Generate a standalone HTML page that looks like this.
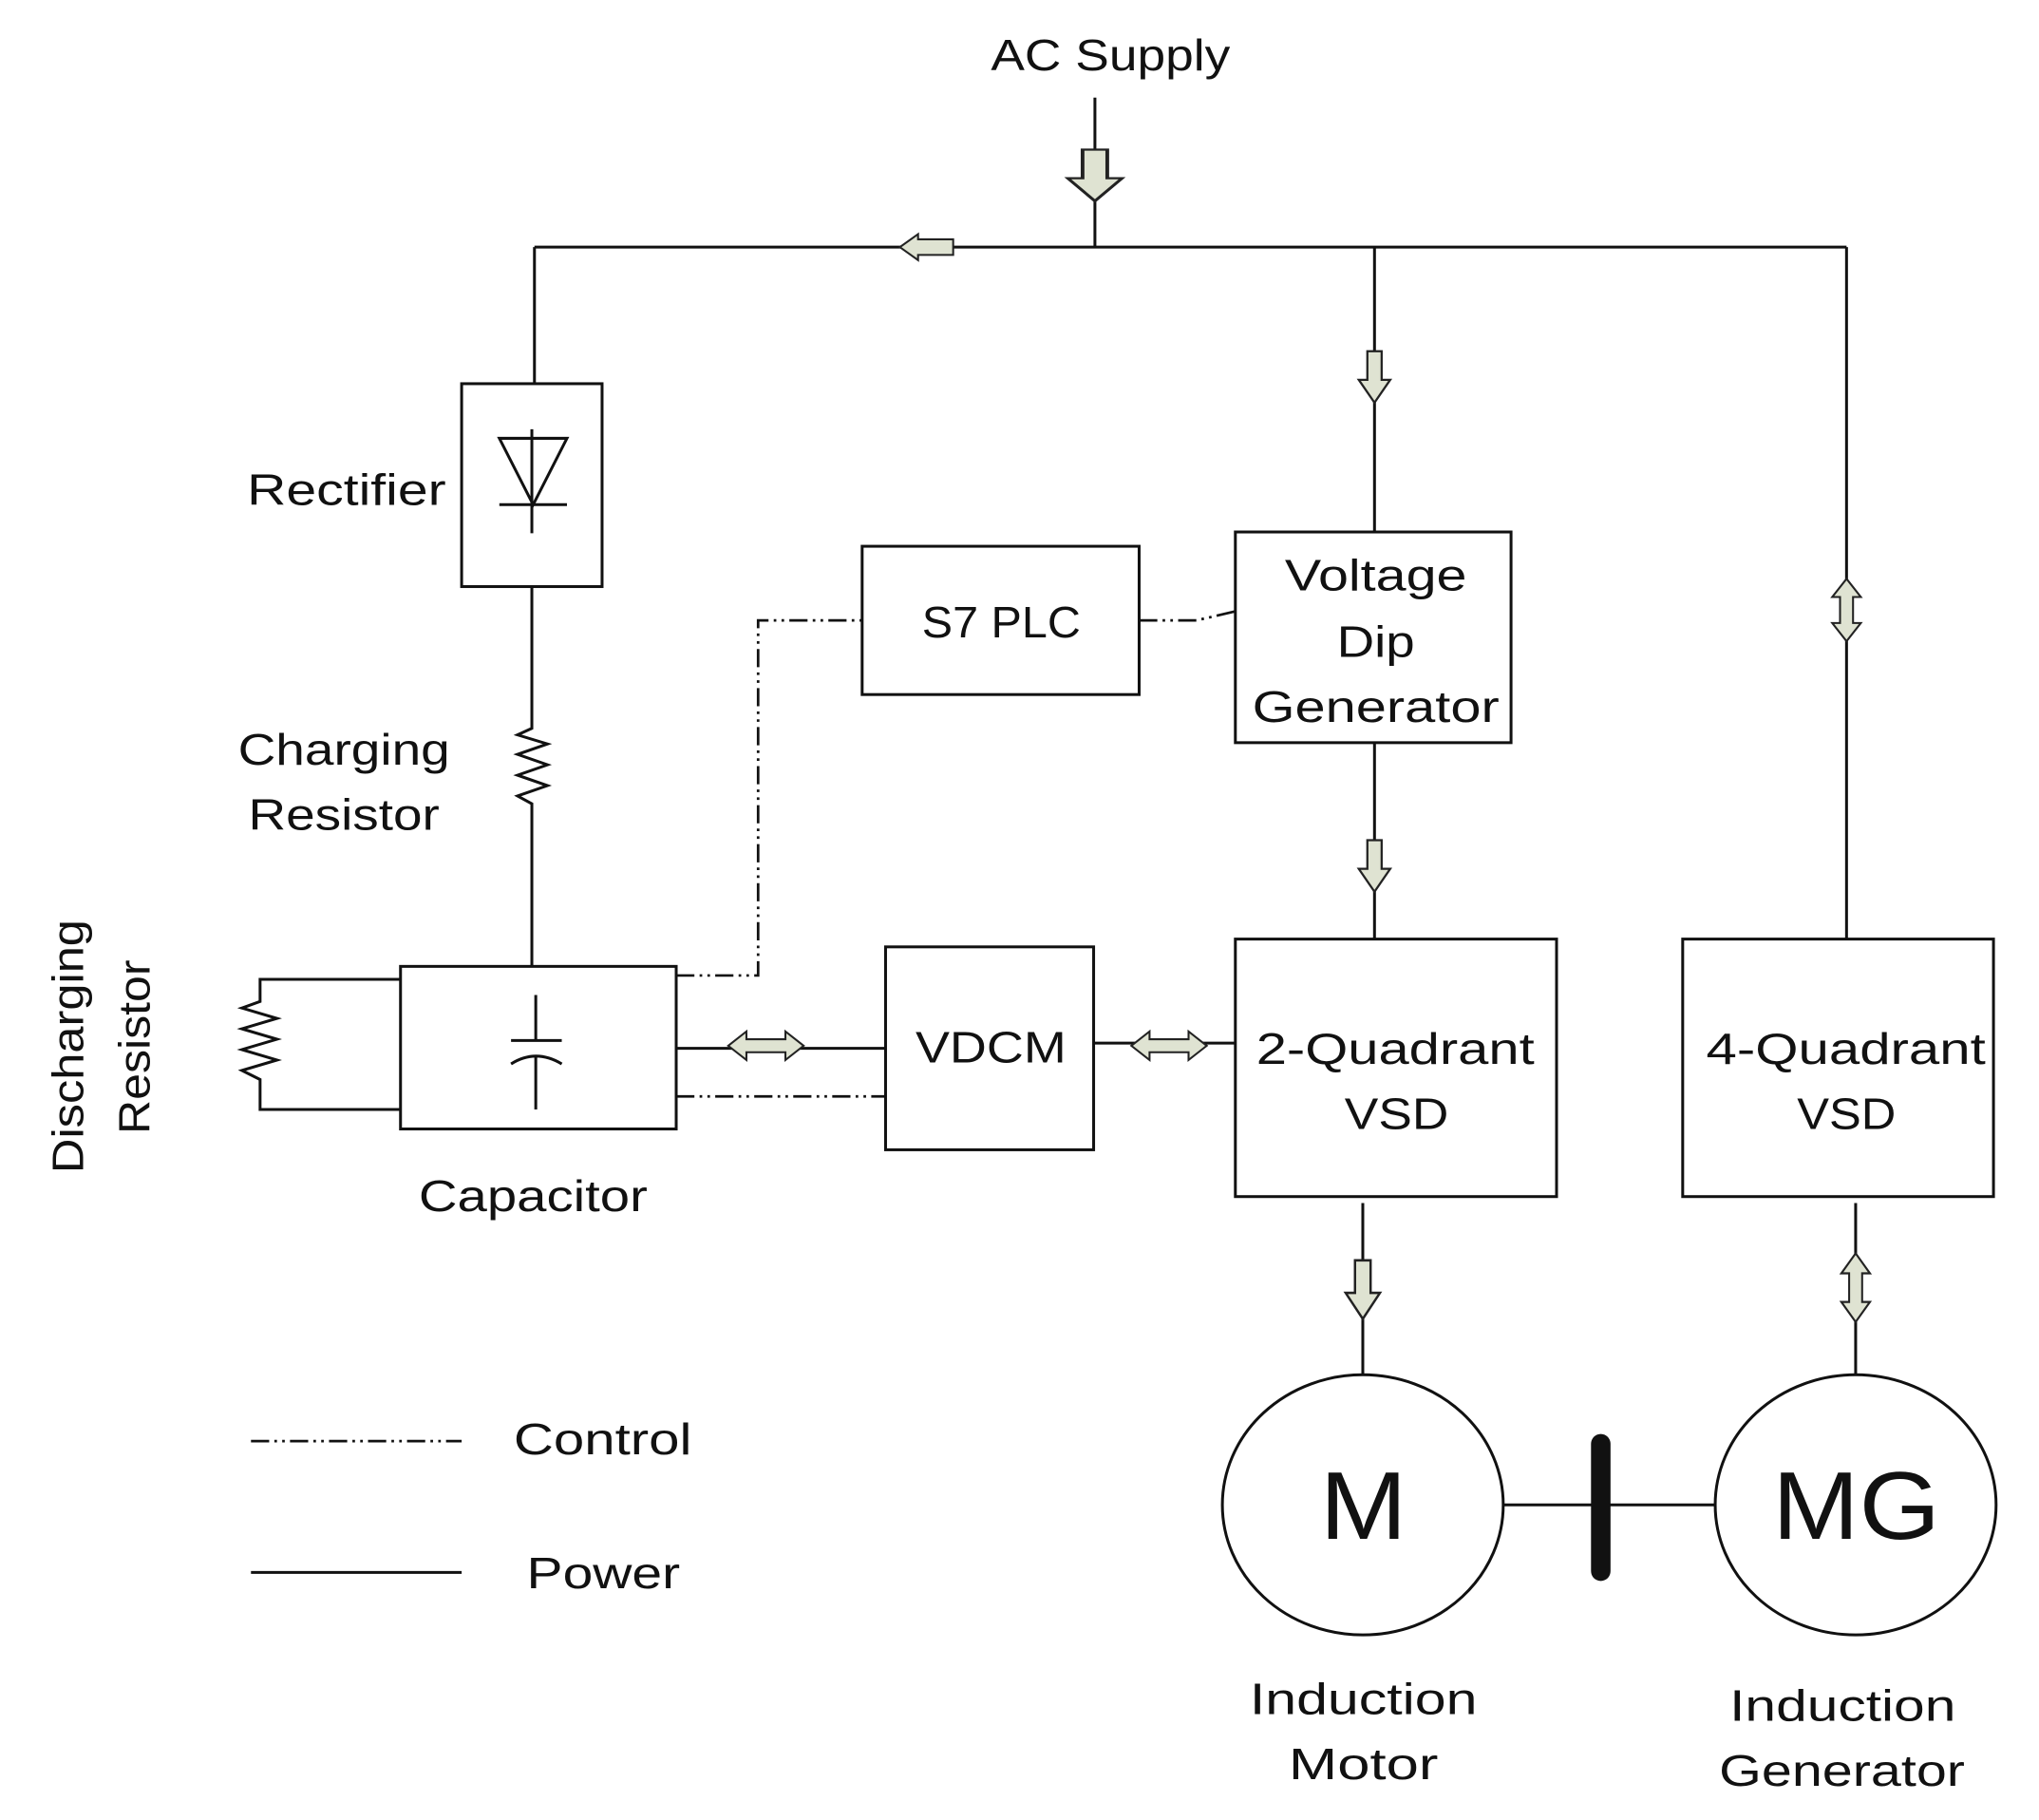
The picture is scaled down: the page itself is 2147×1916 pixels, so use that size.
<!DOCTYPE html>
<html><head><meta charset="utf-8"><style>
html,body{margin:0;padding:0;background:#fff;}
svg{display:block;}
text{font-family:"Liberation Sans",sans-serif;fill:#111;}
</style></head><body>
<svg width="2147" height="1916" viewBox="0 0 1568 1399.3" xmlns="http://www.w3.org/2000/svg">
<defs>
<g id="dn"><path d="M-5,-20 H5 V0 H11 L0,16 L-11,0 H-5 Z" fill="#dfe3d2" stroke="#222" stroke-width="1.5"/></g>
<g id="vd"><path d="M0,-24 L11,-10 H5 V10 H11 L0,24 L-11,10 H-5 V-10 H-11 Z" fill="#dfe3d2" stroke="#222" stroke-width="1.5"/></g>
<g id="hd"><path d="M-29,0 L-15,-11 V-5 H15 V-11 L29,0 L15,11 V5 H-15 V11 Z" fill="#dfe3d2" stroke="#222" stroke-width="1.5"/></g>
</defs>
<g stroke="#111" stroke-width="2.2" fill="none">
<line x1="842" y1="75" x2="842" y2="190"/>
<line x1="411" y1="190" x2="1420" y2="190"/>
<line x1="411" y1="190" x2="411" y2="295"/>
<rect x="355" y="295" width="108" height="156" fill="#fff"/>
<line x1="409" y1="330" x2="409" y2="410"/>
<path d="M384,337 H436 L410,388 Z"/>
<line x1="384" y1="388" x2="436" y2="388"/>
<path d="M409,451 V560 L398,565 L421,572 L398,580 L421,588 L398,596 L421,604 L398,612 L409,618 V743"/>
<rect x="308" y="743" width="212" height="125" fill="#fff"/>
<line x1="412" y1="765" x2="412" y2="800"/>
<line x1="393" y1="800" x2="432" y2="800"/>
<path d="M393,818 Q412,806 432,818"/>
<line x1="412" y1="812" x2="412" y2="853"/>
<path d="M308,753 H200 V770 L186,775 L213,783 L186,791 L213,799 L186,807 L213,815 L186,823 L200,830 V853 H308"/>
<rect x="663" y="420" width="213" height="114"/>
<rect x="950" y="409" width="212" height="162"/>
<line x1="1057" y1="190" x2="1057" y2="409"/>
<line x1="1057" y1="571" x2="1057" y2="722"/>
<rect x="950" y="722" width="247" height="198"/>
<rect x="681" y="728" width="160" height="156"/>
<rect x="1294" y="722" width="239" height="198"/>
<line x1="1420" y1="190" x2="1420" y2="722"/>
<line x1="520" y1="806" x2="681" y2="806"/>
<line x1="841" y1="802" x2="950" y2="802"/>
<line x1="1048" y1="925" x2="1048" y2="1057"/>
<line x1="1427" y1="925" x2="1427" y2="1057"/>
<ellipse cx="1048" cy="1157" rx="108" ry="100"/>
<ellipse cx="1427" cy="1157" rx="108" ry="100"/>
<line x1="1156" y1="1157" x2="1319" y2="1157"/>
<line x1="193" y1="1209" x2="355" y2="1209"/>
</g>
<g stroke="#111" stroke-width="2" fill="none" stroke-dasharray="14,4,2,4,2,4">
<path d="M520,750 H583 V477 H663"/>
<path d="M876,477 H920 L950,470"/>
<line x1="520" y1="843" x2="681" y2="843"/>
<line x1="193" y1="1108" x2="355" y2="1108"/>
</g>
<line x1="1231" y1="1110" x2="1231" y2="1208" stroke="#111" stroke-width="15" stroke-linecap="round"/>
<use href="#dn" transform="translate(842,137) scale(1.9,1.1)"/>
<path d="M733,184 H706 V180 L692,190 L706,200 V196 H733 Z" fill="#dfe3d2" stroke="#222" stroke-width="1.5"/>
<use href="#dn" transform="translate(1057,292) scale(1.1,1.1)"/>
<use href="#dn" transform="translate(1057,668) scale(1.1,1.1)"/>
<use href="#dn" transform="translate(1048,994) scale(1.2,1.25)"/>
<use href="#vd" transform="translate(1420,469)"/>
<use href="#vd" transform="translate(1427,990) scale(1,1.1)"/>
<use href="#hd" transform="translate(589,804)"/>
<use href="#hd" transform="translate(899,804)"/>
<g font-size="34" lengthAdjust="spacingAndGlyphs">
<text x="762" y="54" textLength="184" lengthAdjust="spacingAndGlyphs">AC Supply</text>
<text x="190" y="388" textLength="153" lengthAdjust="spacingAndGlyphs">Rectifier</text>
<text x="183" y="588" textLength="163" lengthAdjust="spacingAndGlyphs">Charging</text>
<text x="191" y="638" textLength="147" lengthAdjust="spacingAndGlyphs">Resistor</text>
<text x="322" y="931" textLength="176" lengthAdjust="spacingAndGlyphs">Capacitor</text>
<text x="709" y="490" textLength="122" lengthAdjust="spacingAndGlyphs">S7 PLC</text>
<text x="988" y="454" textLength="140" lengthAdjust="spacingAndGlyphs">Voltage</text>
<text x="1028" y="505" textLength="60" lengthAdjust="spacingAndGlyphs">Dip</text>
<text x="963" y="555" textLength="190" lengthAdjust="spacingAndGlyphs">Generator</text>
<text x="704" y="817" textLength="116" lengthAdjust="spacingAndGlyphs">VDCM</text>
<text x="966" y="818" textLength="214" lengthAdjust="spacingAndGlyphs">2-Quadrant</text>
<text x="1034" y="868" textLength="80" lengthAdjust="spacingAndGlyphs">VSD</text>
<text x="1312" y="818" textLength="215" lengthAdjust="spacingAndGlyphs">4-Quadrant</text>
<text x="1382" y="868" textLength="76" lengthAdjust="spacingAndGlyphs">VSD</text>
<text x="395" y="1118" textLength="137" lengthAdjust="spacingAndGlyphs">Control</text>
<text x="405" y="1221" textLength="118" lengthAdjust="spacingAndGlyphs">Power</text>
<text x="961" y="1318" textLength="175" lengthAdjust="spacingAndGlyphs">Induction</text>
<text x="991" y="1368" textLength="115" lengthAdjust="spacingAndGlyphs">Motor</text>
<text x="1330" y="1323" textLength="174" lengthAdjust="spacingAndGlyphs">Induction</text>
<text x="1322" y="1373" textLength="189" lengthAdjust="spacingAndGlyphs">Generator</text>
<text transform="translate(64,902) rotate(-90)" textLength="195" lengthAdjust="spacingAndGlyphs">Discharging</text>
<text transform="translate(115,872) rotate(-90)" textLength="134" lengthAdjust="spacingAndGlyphs">Resistor</text>
</g>
<text x="1015" y="1183" font-size="74" textLength="67" lengthAdjust="spacingAndGlyphs">M</text>
<text x="1363" y="1183" font-size="74" textLength="129" lengthAdjust="spacingAndGlyphs">MG</text>
</svg>
</body></html>
